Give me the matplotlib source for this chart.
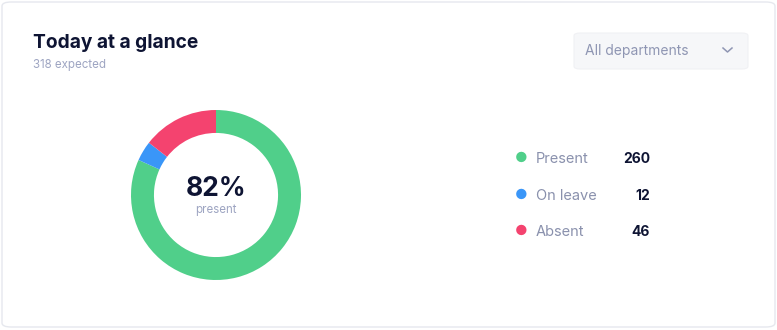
import matplotlib as mpl
mpl.use('Agg')
import matplotlib.pyplot as plt
from matplotlib.patches import FancyBboxPatch

plt.rcParams['font.family'] = ['Inter', 'DejaVu Sans']

categories = ['Present', 'On leave', 'Absent']
counts = [260, 12, 46]
colors = ['#50cf8a', '#3a96f8', '#f4436f']
expected = 318
department = 'All departments'

W, H = 777, 330
fig = plt.figure(figsize=(W / 100, H / 100), dpi=100)
fig.patch.set_facecolor('white')


def fx(x):
    return x / W


def fy(y):
    return 1 - y / H


# card
card = FancyBboxPatch((fx(2), fy(327)), fx(773), 325 / H,
                      boxstyle='round,pad=0,rounding_size=0.012',
                      transform=fig.transFigure, facecolor='white',
                      edgecolor='#e6e8ee', linewidth=1, zorder=-10)
fig.patches.append(card)

fig.text(fx(33), fy(42.5), 'Today at a glance', fontsize=13.8,
         fontweight='bold', color='#0e1433', va='center', ha='left')
fig.text(fx(33), fy(65), '%d expected' % expected, fontsize=8.3,
         color='#9ea5c2', va='center', ha='left')

# dropdown
dd = FancyBboxPatch((fx(574), fy(69)), fx(174), 36 / H,
                    boxstyle='round,pad=0,rounding_size=0.008',
                    transform=fig.transFigure, facecolor='#f6f7f9',
                    edgecolor='#f0f1f4', linewidth=0.8, zorder=-5)
fig.patches.append(dd)
fig.text(fx(585), fy(51), department, fontsize=10, color='#8f96b3',
         va='center', ha='left')
fig.lines.append(plt.Line2D([fx(723), fx(727.5), fx(732)],
                            [fy(48), fy(52), fy(48)],
                            transform=fig.transFigure, color='#8f96b3',
                            linewidth=1.1))

# donut
ax = fig.add_axes([fx(131), fy(280), 170 / W, 170 / H])
ax.pie(counts, colors=colors, startangle=90, counterclock=False, radius=1,
       wedgeprops=dict(width=0.27, edgecolor='none'))
ax.set_xlim(-1, 1)
ax.set_ylim(-1, 1)
ax.set_aspect('equal')
ax.axis('off')
pct = round(100 * counts[0] / expected)
ax.text(0, 0.07, '%d%%' % pct, fontsize=19, fontweight='bold',
        color='#0e1433', ha='center', va='center')
ax.text(0, -0.18, 'present', fontsize=8.3, color='#9ea5c2',
        ha='center', va='center')

# legend
ys = [159, 196, 232]
for cat, val, col, y in zip(categories, counts, colors, ys):
    fig.text(fx(521), fy(y - 1), '\u25cf', fontsize=10, color=col,
             ha='center', va='center')
    fig.text(fx(536), fy(y), cat, fontsize=10.5, color='#8a91ad',
             ha='left', va='center')
    fig.text(fx(650), fy(y), str(val), fontsize=10, fontweight='bold',
             color='#0e1433', ha='right', va='center')

fig.savefig('out.png', dpi=100, facecolor='white')
